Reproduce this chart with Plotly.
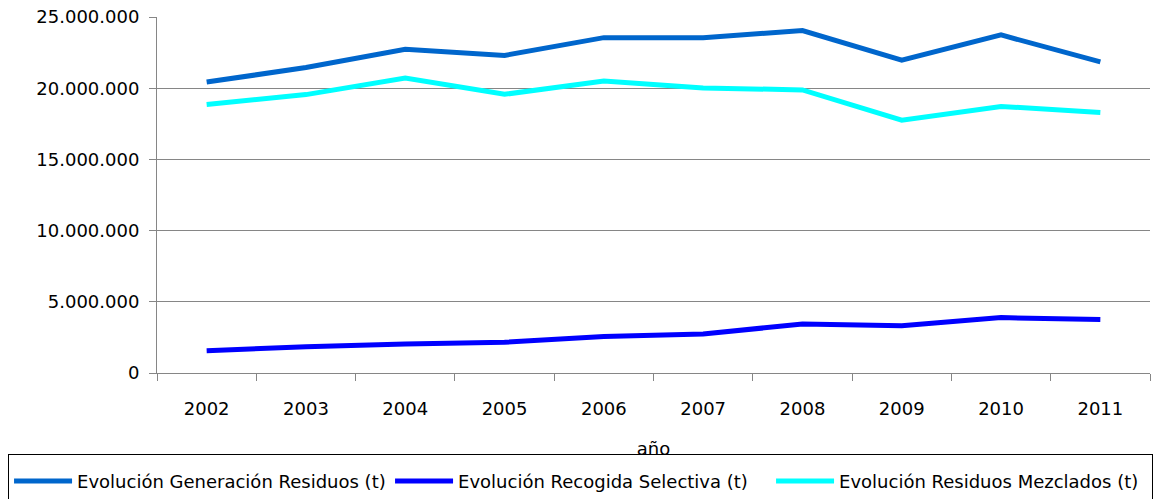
import plotly.graph_objects as go

years = ["2002", "2003", "2004", "2005", "2006", "2007", "2008", "2009", "2010", "2011"]

generacion = [20430000, 21450000, 22730000, 22300000, 23550000,
              23550000, 24050000, 21970000, 23740000, 21850000]
recogida = [1560000, 1850000, 2040000, 2160000, 2570000,
            2740000, 3440000, 3320000, 3890000, 3750000]
mezclados = [18860000, 19550000, 20710000, 19570000, 20500000,
             20020000, 19880000, 17750000, 18720000, 18290000]

series = [
    ("Evolución Generación Residuos (t)", generacion, "#0066CC"),
    ("Evolución Recogida Selectiva (t)", recogida, "#0000FF"),
    ("Evolución Residuos Mezclados (t)", mezclados, "#00FFFF"),
]

FONT = dict(family="DejaVu Sans", size=18, color="#000000")
GRID = "#868686"

fig = go.Figure()
for name, vals, color in series:
    fig.add_trace(go.Scatter(
        x=years, y=vals, name=name, mode="lines",
        line=dict(color=color, width=5),
    ))

# page body has an 8px margin, so the figure is 8px smaller than the window
fig.update_layout(
    width=1165, height=491,
    paper_bgcolor="white", plot_bgcolor="white",
    font=FONT,
    separators=",.",
    margin=dict(l=149, r=23, t=9, b=126, autoexpand=False),
    showlegend=True,
    legend=dict(
        orientation="h",
        x=-0.15, y=-0.2275, xanchor="left", yanchor="top",
        bordercolor="#000000", borderwidth=1,
        font=FONT,
        title=dict(text=" ", side="top", font=dict(size=6)),
        itemwidth=58,
        entrywidth=308, entrywidthmode="pixels",
    ),
)

fig.update_xaxes(
    type="category",
    range=[-0.5, len(years) - 0.5],
    tickson="boundaries",
    ticks="outside", ticklen=7, tickcolor=GRID,
    showline=True, linecolor=GRID, linewidth=1,
    showgrid=False, automargin=False,
    ticklabeloverflow="allow",
    ticklabelstandoff=19,
    title=dict(text="año", standoff=24, font=FONT),
)

fig.update_yaxes(
    range=[0, 25000000],
    dtick=5000000,
    tickformat=",d",
    ticks="outside", ticklen=7, tickcolor=GRID,
    showline=True, linecolor=GRID, linewidth=1,
    showgrid=True, gridcolor=GRID, gridwidth=1,
    zeroline=False, automargin=False,
    ticklabeloverflow="allow",
    ticklabelstandoff=6,
)

fig.write_html("out.html")
